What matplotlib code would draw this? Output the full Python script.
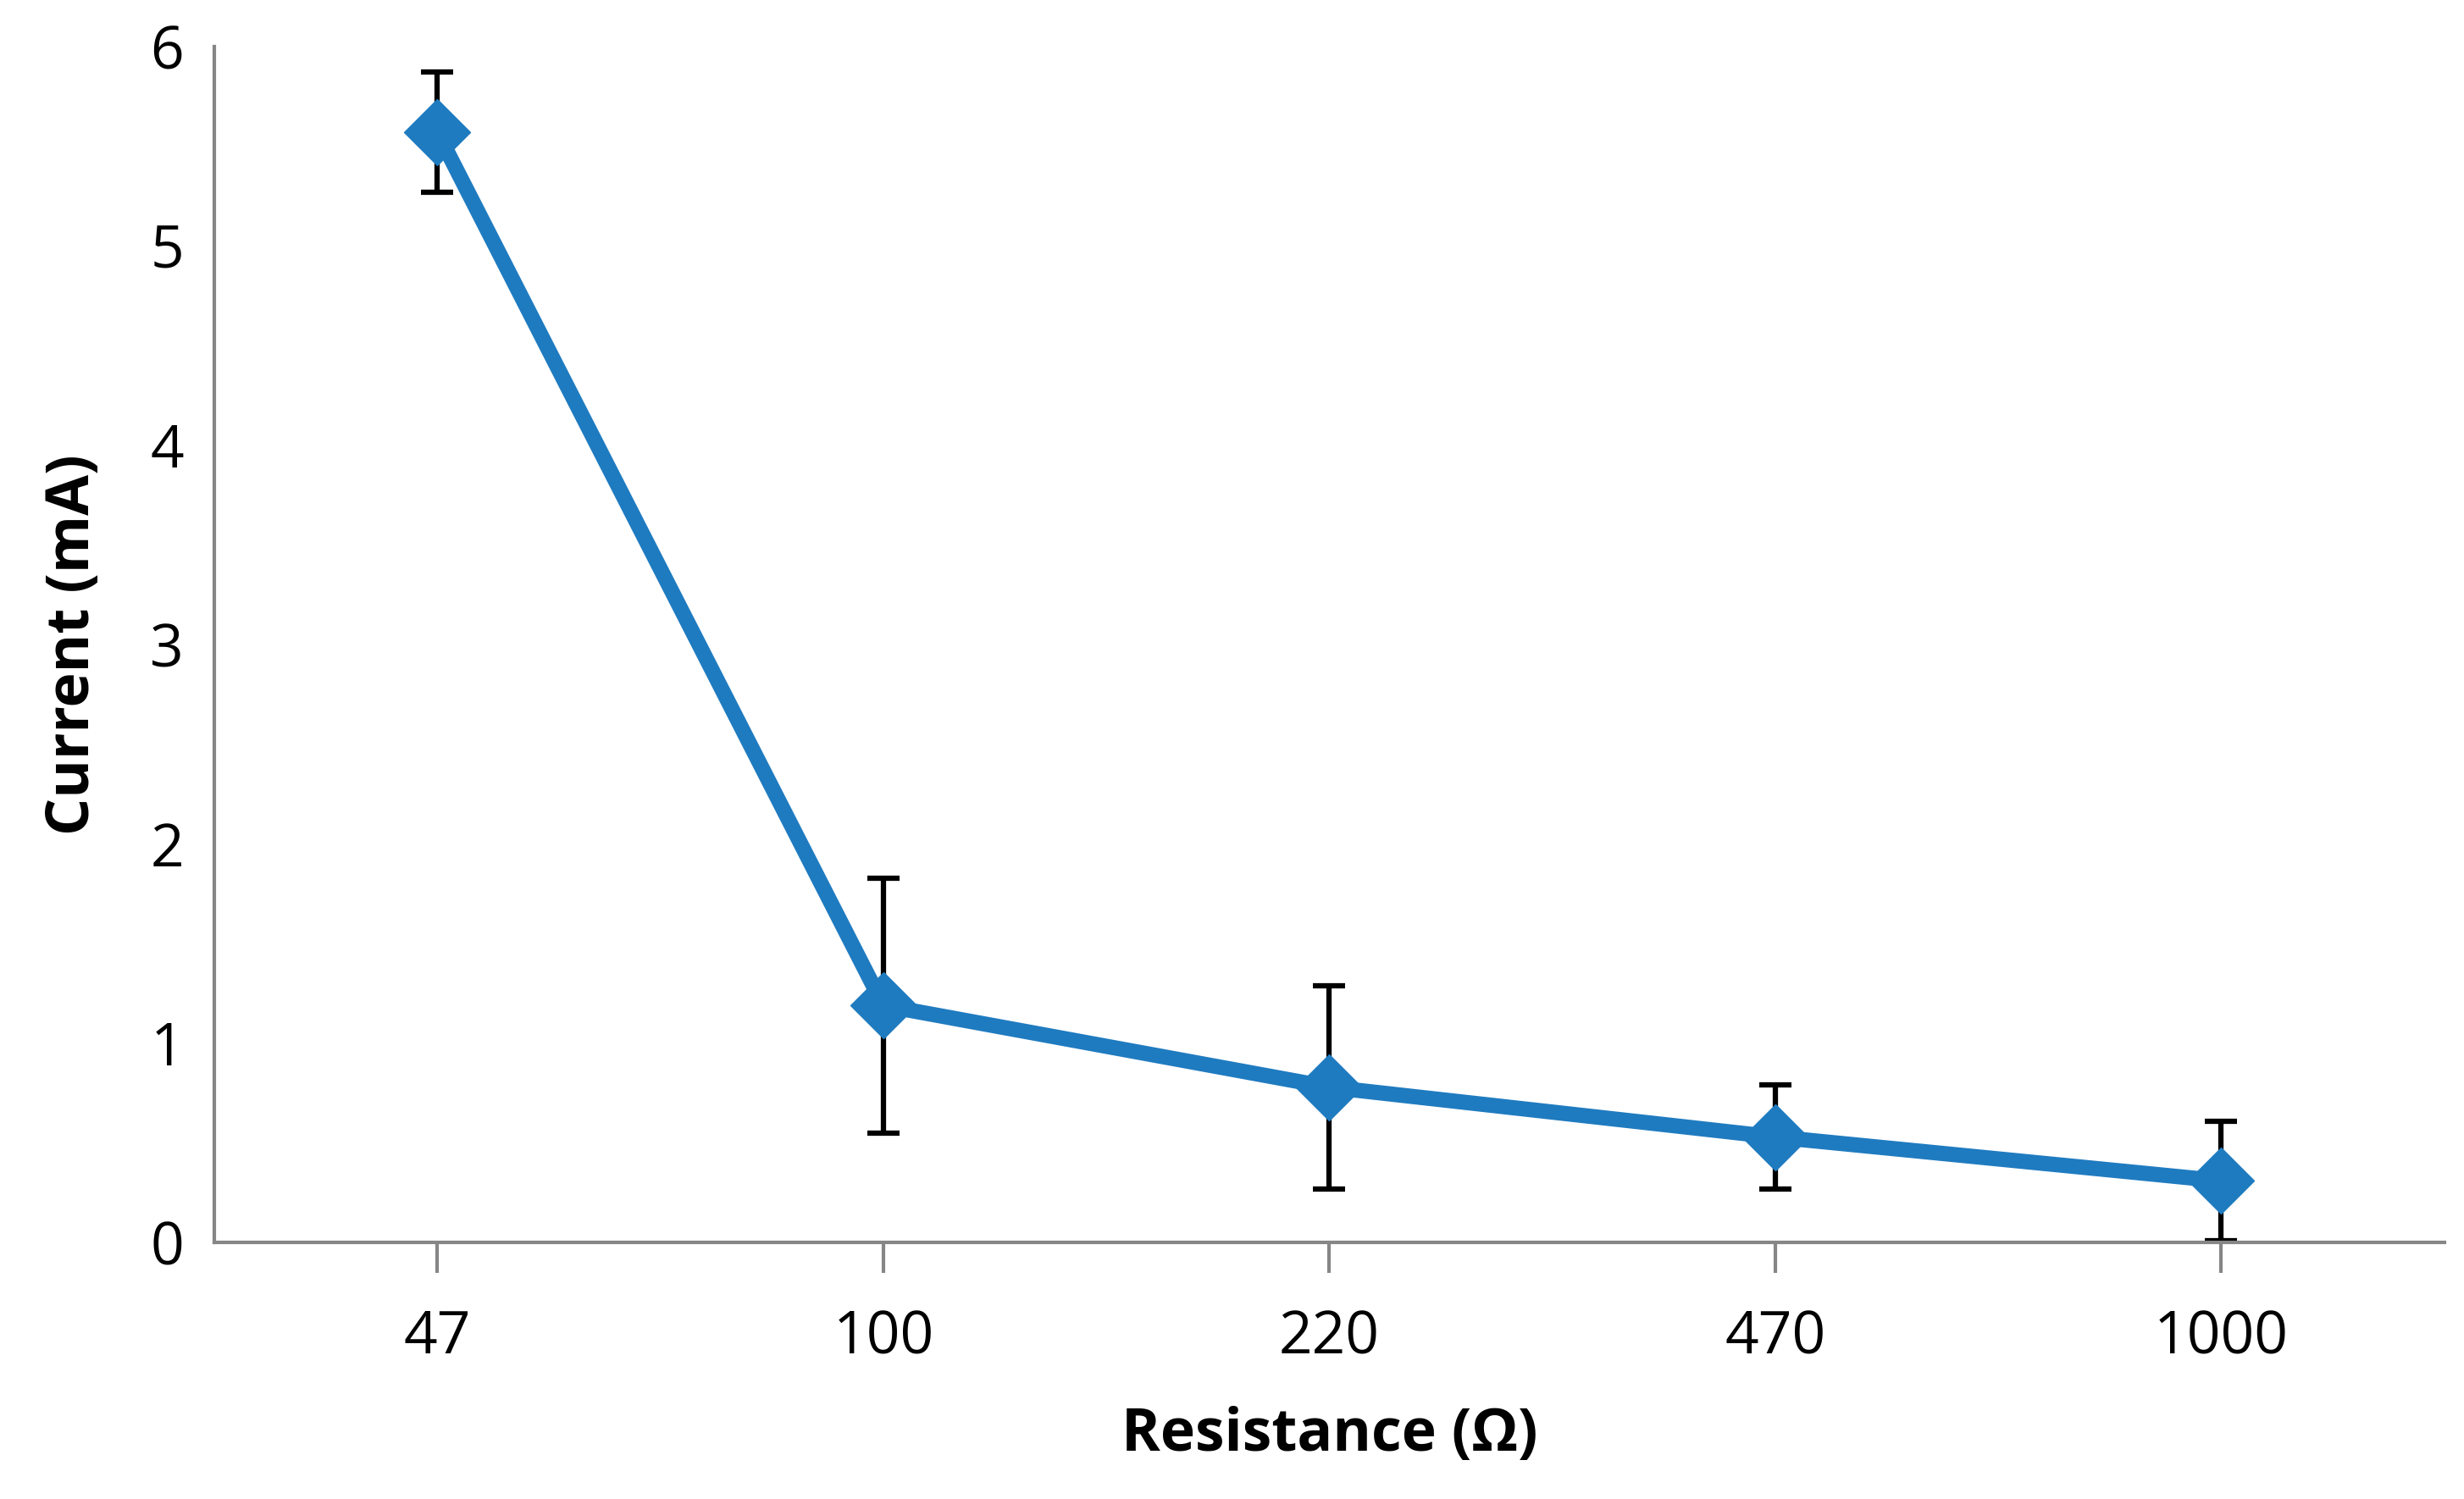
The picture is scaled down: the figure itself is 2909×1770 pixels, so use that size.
import matplotlib
matplotlib.use("Agg")
import matplotlib.pyplot as plt

categories = ["47", "100", "220", "470", "1000"]
current = [5.57, 1.19, 0.78, 0.53, 0.31]
errors = [0.30, 0.64, 0.51, 0.26, 0.30]

plt.rcParams['font.family'] = ['Open Sans', 'DejaVu Sans']
fig = plt.figure(figsize=(29.09, 17.70), dpi=100)
ax = fig.add_axes([0.087, 0.171, 0.905, 0.798])
x = list(range(len(categories)))
ax.errorbar(x, current, yerr=errors, fmt='none', ecolor='black', elinewidth=4.5,
            capsize=14, capthick=4.5, zorder=1)
ax.plot(x, current, color='#1f7bc0', lw=13, marker='D', markersize=40, zorder=2)
ax.set_xlim(-0.5, 4.5)
ax.set_ylim(0, 6)
ax.set_xticks(x)
ax.set_xticklabels(categories)
ax.set_yticks(range(7))
for s in ['top', 'right']:
    ax.spines[s].set_visible(False)
for s in ['left', 'bottom']:
    ax.spines[s].set_color('#868686')
    ax.spines[s].set_linewidth(3)
ax.tick_params(axis='x', length=26, width=3, color='#868686', labelsize=50, pad=30)
ax.tick_params(axis='y', length=0, labelsize=50, pad=26)
ax.set_xlabel("Resistance (Ω)", fontsize=50, fontweight='bold', labelpad=32)
ax.set_ylabel("Current (mA)", fontsize=50, fontweight='bold', labelpad=40)
fig.savefig("out.png", dpi=100)
